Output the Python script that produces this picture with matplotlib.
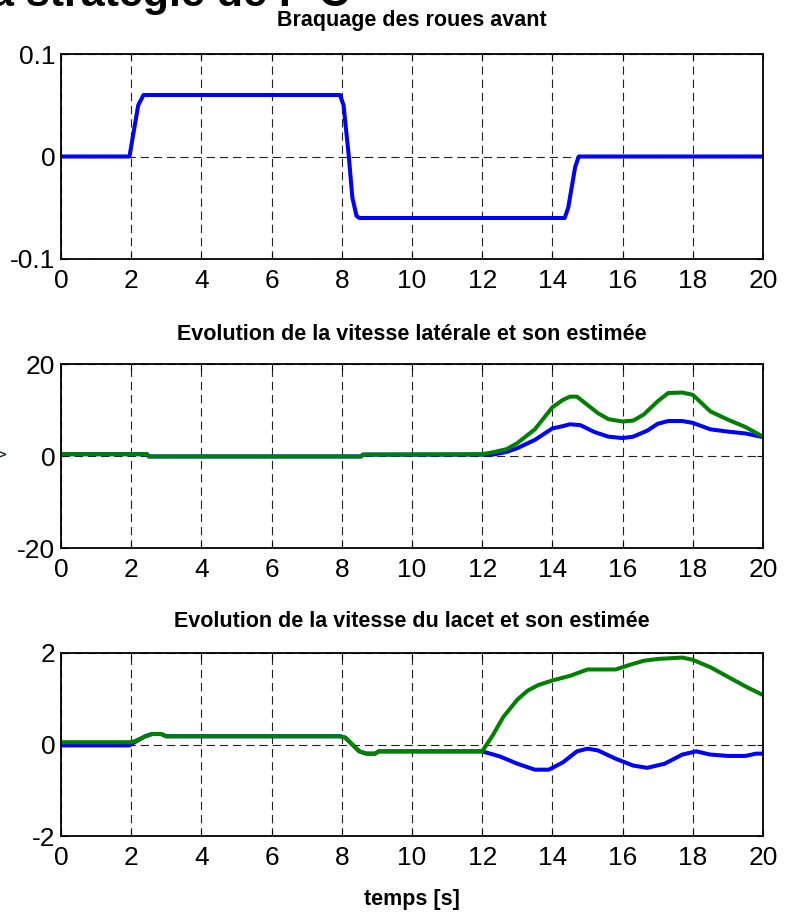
import matplotlib
matplotlib.use("Agg")
import matplotlib.pyplot as plt

plt.rcParams["lines.scale_dashes"] = False

SANS = ["Liberation Sans", "DejaVu Sans"]

# steering angle of the front wheels
t_brq = [0, 1.95, 2.05, 2.2, 2.35, 7.95, 8.05, 8.2, 8.3, 8.42, 8.5,
         14.35, 14.45, 14.55, 14.65, 14.75, 20]
brq = [0, 0, 0.02, 0.05, 0.06, 0.06, 0.05, 0.0, -0.04, -0.058, -0.06,
       -0.06, -0.05, -0.03, -0.01, 0, 0]

# lateral speed and its estimate
t_vy = [0, 2.45, 2.5, 8.55, 8.6, 12.0, 12.3, 12.7, 13.0, 13.5, 14.0, 14.3, 14.5,
        14.8, 15.2, 15.6, 16.0, 16.3, 16.7, 17.0, 17.3, 17.7, 18.0, 18.5, 19.0,
        19.5, 20.0]
vy = [0.4, 0.4, -0.1, -0.1, 0.3, 0.3, 0.3, 0.9, 1.7, 3.5, 6.0, 6.5, 6.9,
      6.7, 5.2, 4.2, 3.9, 4.2, 5.5, 7.0, 7.6, 7.6, 7.2, 5.8, 5.3,
      4.9, 4.1]
t_vy_est = [0, 2.45, 2.5, 8.55, 8.6, 12.0, 12.3, 12.7, 13.0, 13.5, 14.0, 14.3,
            14.5, 14.7, 15.0, 15.3, 15.6, 16.0, 16.3, 16.6, 17.0, 17.3, 17.7,
            18.0, 18.5, 19.0, 19.5, 20.0]
vy_est = [0.4, 0.4, -0.1, -0.1, 0.3, 0.4, 0.8, 1.5, 2.8, 5.8, 10.6, 12.2,
          12.9, 12.9, 11.1, 9.3, 8.0, 7.5, 7.7, 9.0, 11.9, 13.7, 13.8,
          13.3, 9.7, 7.9, 6.3, 4.2]

# yaw rate and its estimate
t_r = [0, 1.95, 2.1, 2.4, 2.6, 2.85, 3.0, 7.95, 8.1, 8.3, 8.5, 8.7, 8.95, 9.05,
       12.0, 12.5, 13.0, 13.5, 13.9, 14.3, 14.7, 15.0, 15.3, 15.8, 16.3, 16.7,
       17.2, 17.7, 18.1, 18.5, 19.0, 19.5, 19.8, 20.0]
r = [-0.02, -0.02, 0.05, 0.18, 0.23, 0.23, 0.18, 0.18, 0.15, 0.0, -0.15, -0.2,
     -0.2, -0.15, -0.15, -0.26, -0.42, -0.55, -0.55, -0.39, -0.15, -0.09, -0.13,
     -0.31, -0.46, -0.51, -0.42, -0.22, -0.15, -0.22, -0.25, -0.25, -0.2, -0.2]
t_r_est = [0, 1.95, 2.1, 2.4, 2.6, 2.85, 3.0, 7.95, 8.1, 8.3, 8.5, 8.7, 8.95,
           9.05, 12.0, 12.3, 12.6, 13.0, 13.3, 13.6, 14.0, 14.5, 15.0, 15.8,
           16.2, 16.6, 17.0, 17.7, 18.0, 18.5, 19.0, 19.5, 20.0]
r_est = [0.05, 0.05, 0.07, 0.18, 0.23, 0.23, 0.18, 0.18, 0.15, 0.0, -0.15, -0.2,
         -0.2, -0.15, -0.15, 0.2, 0.6, 0.98, 1.18, 1.3, 1.4, 1.5, 1.64, 1.64,
         1.74, 1.83, 1.87, 1.9, 1.85, 1.69, 1.48, 1.27, 1.08]

xticks = list(range(0, 21, 2))
W, H = 796, 915

fig = plt.figure(figsize=(W / 100, H / 100), dpi=100)


def make_ax(top_px, bot_px, ylim, yticks, yticklabels):
    ax = fig.add_axes([61 / W, 1 - bot_px / H, 702 / W, (bot_px - top_px) / H])
    ax.set_xlim(0, 20)
    ax.set_ylim(*ylim)
    ax.set_xticks(xticks)
    ax.set_yticks(yticks)
    ax.set_yticklabels(yticklabels)
    ax.tick_params(direction="in", length=4, width=0.8, labelsize=19,
                   top=True, right=True)
    ax.tick_params(axis="x", pad=7)
    ax.tick_params(axis="y", pad=4)
    for lab in ax.get_xticklabels() + ax.get_yticklabels():
        lab.set_family(SANS)
    ax.grid(True, color="#222222", linewidth=0.8, linestyle=(0, (6, 3.5)))
    for s in ax.spines.values():
        s.set_linewidth(1.3)
    return ax


ax1 = make_ax(54, 259, (-0.1, 0.1), [-0.1, 0, 0.1], ["-0.1", "0", "0.1"])
ax1.plot(t_brq, brq, color="#0000ff", linewidth=2.9)

ax2 = make_ax(364, 548, (-20, 20), [-20, 0, 20], ["-20", "0", "20"])
ax2.plot(t_vy, vy, color="#0000ff", linewidth=2.9)
ax2.plot(t_vy_est, vy_est, color="#008000", linewidth=2.9)

ax3 = make_ax(653, 836, (-2, 2), [-2, 0, 2], ["-2", "0", "2"])
ax3.plot(t_r, r, color="#0000ff", linewidth=2.9)
ax3.plot(t_r_est, r_est, color="#008000", linewidth=2.9)

cx = 412 / W
fig.text(cx, 1 - 26 / H, "Braquage des roues avant", ha="center", va="baseline",
         fontsize=15.5, fontweight="bold", family=SANS)
fig.text(cx, 1 - 340 / H, "Evolution de la vitesse latérale et son estimée",
         ha="center", va="baseline", fontsize=15.5, fontweight="bold", family=SANS)
fig.text(cx, 1 - 627 / H, "Evolution de la vitesse du lacet et son estimée",
         ha="center", va="baseline", fontsize=15.5, fontweight="bold", family=SANS)
fig.text(cx, 1 - 905 / H, "temps [s]", ha="center", va="baseline",
         fontsize=15.5, fontweight="bold", family=SANS)

# clipped caption at the top edge and a clipped y label at the left edge
fig.text(-10 / W, 1 - 6 / H, "a stratégie de P C", ha="left", va="baseline",
         fontsize=31, fontweight="bold", family=SANS)
fig.text(0, 1 - 455 / H, ">", ha="center", va="center", fontsize=12,
         color="#203020")

fig.savefig("out.png", dpi=100)
